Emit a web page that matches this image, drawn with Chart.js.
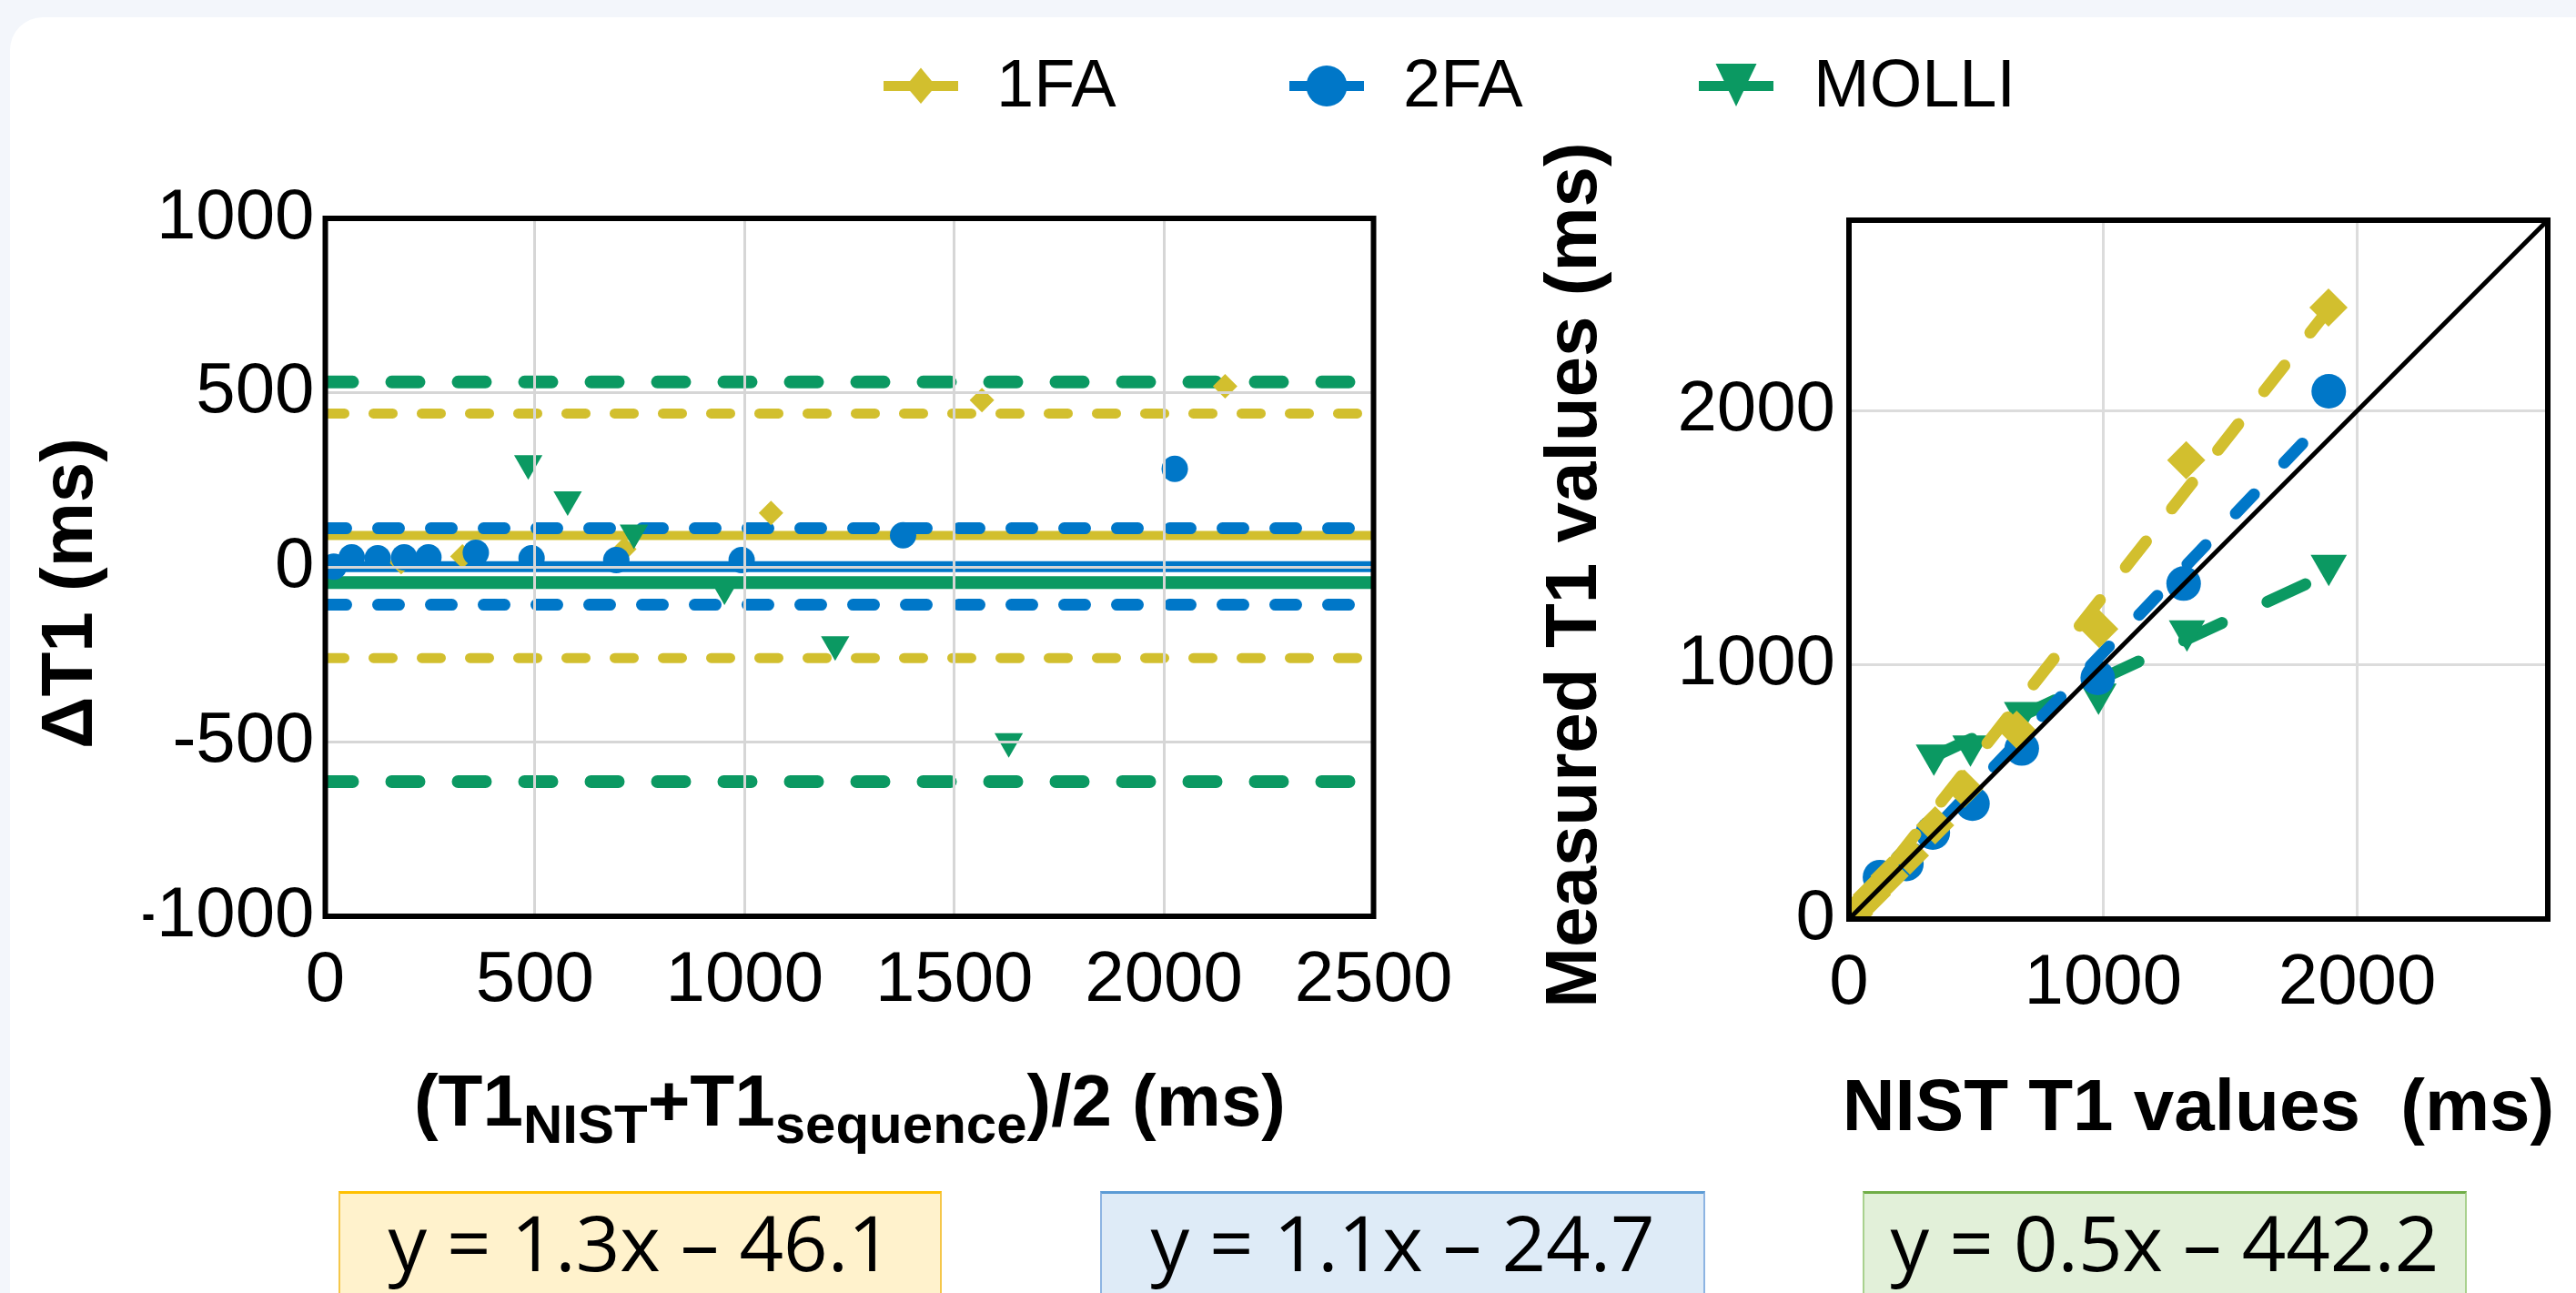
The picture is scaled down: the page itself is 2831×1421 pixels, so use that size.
<!DOCTYPE html>
<html>
<head>
<meta charset="utf-8">
<script src="https://cdn.jsdelivr.net/npm/chart.js@4.4.0/dist/chart.umd.min.js"></script>
<style>
  html, body { margin: 0; padding: 0; }
  body { width: 2831px; height: 1421px; background: #f3f6fb; overflow: hidden; position: relative;
         font-family: "Liberation Sans", Arial, sans-serif; color: #000; }
  #card { position: absolute; left: 11px; top: 19px; width: 2900px; height: 1500px; background: #fff; border-radius: 36px 0 0 0; }
  canvas { position: absolute; top: 0; }
  #cvLeft { left: 0; }
  #cvRight { left: 1700px; }
  .lg-sym { position: absolute; top: 70px; }
  .lg-txt { position: absolute; top: 55px; font-size: 74px; line-height: 74px; white-space: nowrap; }
  .ttl { position: absolute; font-weight: bold; font-size: 80px; line-height: 80px; white-space: pre; text-align: center; }
  .ttl sub { font-size: 60px; vertical-align: -19px; line-height: 0; }
  .rot { transform: rotate(-90deg); transform-origin: 50% 50%; }
  .eq { position: absolute; top: 1309px; height: 150px; box-sizing: border-box; border: 2px solid; border-top-width: 3px;
        font-family: "Open Sans", sans-serif; font-size: 85px; line-height: 85px; text-align: center; padding-top: 10px; white-space: pre; }
</style>
</head>
<body>
<div id="card"></div>
<canvas id="cvLeft" width="1660" height="1200"></canvas>
<canvas id="cvRight" width="1131" height="1200"></canvas>

<!-- legend -->
<svg class="lg-sym" style="left:971px" width="82" height="50">
  <line x1="0" y1="24.5" x2="82" y2="24.5" stroke="#d2bf2e" stroke-width="11"/>
  <polygon points="41,4.5 57.5,24.5 41,44 24.5,24.5" fill="#d2bf2e"/>
</svg>
<div class="lg-txt" style="left:1095px">1FA</div>
<svg class="lg-sym" style="left:1417px" width="82" height="50">
  <line x1="0" y1="24.5" x2="82" y2="24.5" stroke="#0077c8" stroke-width="11"/>
  <circle cx="41" cy="24.5" r="22.5" fill="#0077c8"/>
</svg>
<div class="lg-txt" style="left:1542px">2FA</div>
<svg class="lg-sym" style="left:1867px" width="82" height="50">
  <line x1="0" y1="24.5" x2="82" y2="24.5" stroke="#0b9962" stroke-width="11"/>
  <polygon points="18.5,0 63.5,0 41,47" fill="#0b9962"/>
</svg>
<div class="lg-txt" style="left:1993px">MOLLI</div>

<!-- axis titles -->
<div class="ttl rot" style="left:-176px; top:612px; width:500px;">ΔT1 (ms)</div>
<div class="ttl" style="left:334px; top:1170px; width:1200px;">(T1<sub>NIST</sub>+T1<sub>sequence</sub>)/2 (ms)</div>
<div class="ttl rot" style="left:1177px; top:592px; width:1100px;">Measured T1 values (ms)</div>
<div class="ttl" style="left:1916px; top:1175px; width:1000px;">NIST T1 values  (ms)</div>

<!-- regression boxes -->
<div class="eq" style="left:372px; width:663px; background:#fff2cc; border-color:#f5c74a; border-top-color:#ffc000;">y = 1.3x – 46.1</div>
<div class="eq" style="left:1209px; width:665px; background:#deebf7; border-color:#8db4e2; border-top-color:#5b9bd5;">y = 1.1x – 24.7</div>
<div class="eq" style="left:2047px; width:664px; background:#e2f0d9; border-color:#a9d18e; border-top-color:#70ad47;">y = 0.5x – 442.2</div>

<script>
// ---- Bland-Altman (left panel) ----
const baRange = [0, 2500];
const baXTicks = [0, 500, 1000, 1500, 2000, 2500];
const baYTicks = [-1000, -500, 0, 500, 1000];
const ba1faMean = [181, 327, 713, 1063, 1566, 2146];
const ba1faDiff = [15, 31, 52, 156, 479, 519];
const ba2faMean = [20, 63, 125, 188, 246, 359, 492, 694, 993, 1378, 2026];
const ba2faDiff = [2, 29, 26, 29, 29, 42, 26, 21, 21, 92, 282];
const baMolliMean = [484, 578, 736, 952, 1216, 1630];
const baMolliDiff = [298, 194, 99, -61, -221, -499];
// [upper limit, mean bias, lower limit]
const lim1fa = [441, 91, -260];
const lim2fa = [112, 2, -107];
const limMolli = [531, -44, -614];

// ---- Measured vs NIST (right panel) ----
const t1Range = [0, 2750];
const t1Ticks = [0, 1000, 2000];
const nist1fa = [20, 90, 160, 240, 339, 454, 660, 985, 1327, 1887];
const meas1fa = [20, 95, 170, 250, 369, 513, 745, 1141, 1806, 2406];
const nist2fa = [10, 122, 226, 330, 486, 680, 979, 1317, 1888];
const meas2fa = [5, 165, 217, 340, 454, 671, 949, 1320, 2077];
const nistMolli = [334, 478, 681, 982, 1330, 1888];
const measMolli = [645, 681, 813, 885, 1134, 1392];
// dashed trend lines: [start, end]
const trend1faX = [0, 1888], trend1faY = [0, 2400];
const trend2faX = [0, 1888], trend2faY = [0, 1980];
const trendMolliX = [334, 1888], trendMolliY = [640, 1360];

const YELLOW = '#d2bf2e', BLUE = '#0077c8', GREEN = '#0b9962';

Chart.defaults.font.family = '"Liberation Sans", Arial, sans-serif';
Chart.defaults.color = '#000';

const pts = (xs, ys) => xs.map((x, i) => ({ x: x, y: ys[i] }));

function seg(xs, ys, color, width, dash, order) {
    return {
        data: pts(xs, ys),
        showLine: true, borderColor: color, borderWidth: width,
        borderDash: dash, borderCapStyle: dash.length ? 'round' : 'butt',
        pointRadius: 0, pointHoverRadius: 0, clip: 0, order: order
    };
}
const hline = (v, color, width, dash, order) => seg(baRange, [v, v], color, width, dash, order);

function marks(xs, ys, color, style, r, rot, order) {
    return {
        data: pts(xs, ys), showLine: false,
        backgroundColor: color, borderColor: color, borderWidth: 0,
        pointStyle: style, pointRadius: r, pointHoverRadius: r, pointRotation: rot, order: order
    };
}

// black frame round the plot area
const framePlugin = {
    id: 'frame',
    afterDraw(chart) {
        const a = chart.chartArea, ctx = chart.ctx;
        ctx.save();
        ctx.strokeStyle = '#000';
        ctx.lineWidth = 6;
        ctx.strokeRect(a.left, a.top, a.right - a.left, a.bottom - a.top);
        ctx.restore();
    }
};

const tickFont = { size: 78 };
const plain = v => String(v);
const fixedTicks = list => (s => { s.ticks = list.map(v => ({ value: v })); });

// left: Bland-Altman
new Chart(document.getElementById('cvLeft'), {
    type: 'scatter',
    data: {
        datasets: [
            hline(lim1fa[0], YELLOW, 11, [21, 32], 5),
            hline(lim1fa[1], YELLOW, 10, [], 5),
            hline(lim1fa[2], YELLOW, 11, [21, 32], 5),
            hline(lim2fa[0], BLUE, 13, [23, 35], 4),
            hline(lim2fa[1], BLUE, 12, [], 4),
            hline(lim2fa[2], BLUE, 13, [23, 35], 4),
            hline(limMolli[0], GREEN, 14, [30, 43], 3),
            hline(limMolli[1], GREEN, 14, [], 3),
            hline(limMolli[2], GREEN, 14, [30, 43], 3),
            marks(ba1faMean, ba1faDiff, YELLOW, 'rectRot', 13.5, 0, 2),
            marks(ba2faMean, ba2faDiff, BLUE, 'circle', 14.5, 0, 1),
            marks(baMolliMean, baMolliDiff, GREEN, 'triangle', 18, 180, 0)
        ]
    },
    options: {
        responsive: false, animation: false, devicePixelRatio: 1,
        layout: { padding: { left: 157.5, top: 240, right: 150.5, bottom: 73 } },
        plugins: { legend: { display: false }, tooltip: { enabled: false } },
        scales: {
            x: {
                type: 'linear', min: baRange[0], max: baRange[1],
                afterBuildTicks: fixedTicks(baXTicks),
                ticks: { padding: 25, font: tickFont, color: '#000', maxRotation: 0, autoSkip: false, callback: plain },
                grid: { color: '#d6d6d6', lineWidth: 3, drawTicks: false, z: 1 },
                border: { display: false },
                afterFit(s) { s.height = 120; }
            },
            y: {
                type: 'linear', min: -1000, max: 1000,
                afterBuildTicks: fixedTicks(baYTicks),
                ticks: { padding: 12, font: tickFont, color: '#000', autoSkip: false, callback: plain },
                grid: { color: '#d6d6d6', lineWidth: 3, drawTicks: false, z: 1 },
                border: { display: false },
                afterFit(s) { s.width = 200; }
            }
        }
    },
    plugins: [framePlugin]
});

// right: measured vs NIST
new Chart(document.getElementById('cvRight'), {
    type: 'scatter',
    data: {
        datasets: [
            seg(t1Range, t1Range, '#000', 5, [], 0),
            marks(nist1fa, meas1fa, YELLOW, 'rectRot', 21, 0, 1),
            seg(trend1faX, trend1faY, YELLOW, 13, [36, 46], 2),
            marks(nist2fa, meas2fa, BLUE, 'circle', 19, 0, 3),
            seg(trend2faX, trend2faY, BLUE, 13, [29, 48], 4),
            marks(nistMolli, measMolli, GREEN, 'triangle', 23, 180, 5),
            seg(trendMolliX, trendMolliY, GREEN, 13, [46, 55], 6)
        ]
    },
    options: {
        responsive: false, animation: false, devicePixelRatio: 1,
        layout: { padding: { left: 132, top: 242, right: 31, bottom: 70 } },
        plugins: { legend: { display: false }, tooltip: { enabled: false } },
        scales: {
            x: {
                type: 'linear', min: t1Range[0], max: t1Range[1],
                afterBuildTicks: fixedTicks(t1Ticks),
                ticks: { padding: 25, font: tickFont, color: '#000', maxRotation: 0, autoSkip: false, callback: plain },
                grid: { color: '#dcdcdc', lineWidth: 3, drawTicks: false },
                border: { display: false },
                afterFit(s) { s.height = 120; }
            },
            y: {
                type: 'linear', min: t1Range[0], max: t1Range[1],
                afterBuildTicks: fixedTicks(t1Ticks),
                ticks: { padding: 15, font: tickFont, color: '#000', autoSkip: false, callback: plain },
                grid: { color: '#dcdcdc', lineWidth: 3, drawTicks: false },
                border: { display: false },
                afterFit(s) { s.width = 200; }
            }
        }
    },
    plugins: [framePlugin]
});
</script>
</body>
</html>
